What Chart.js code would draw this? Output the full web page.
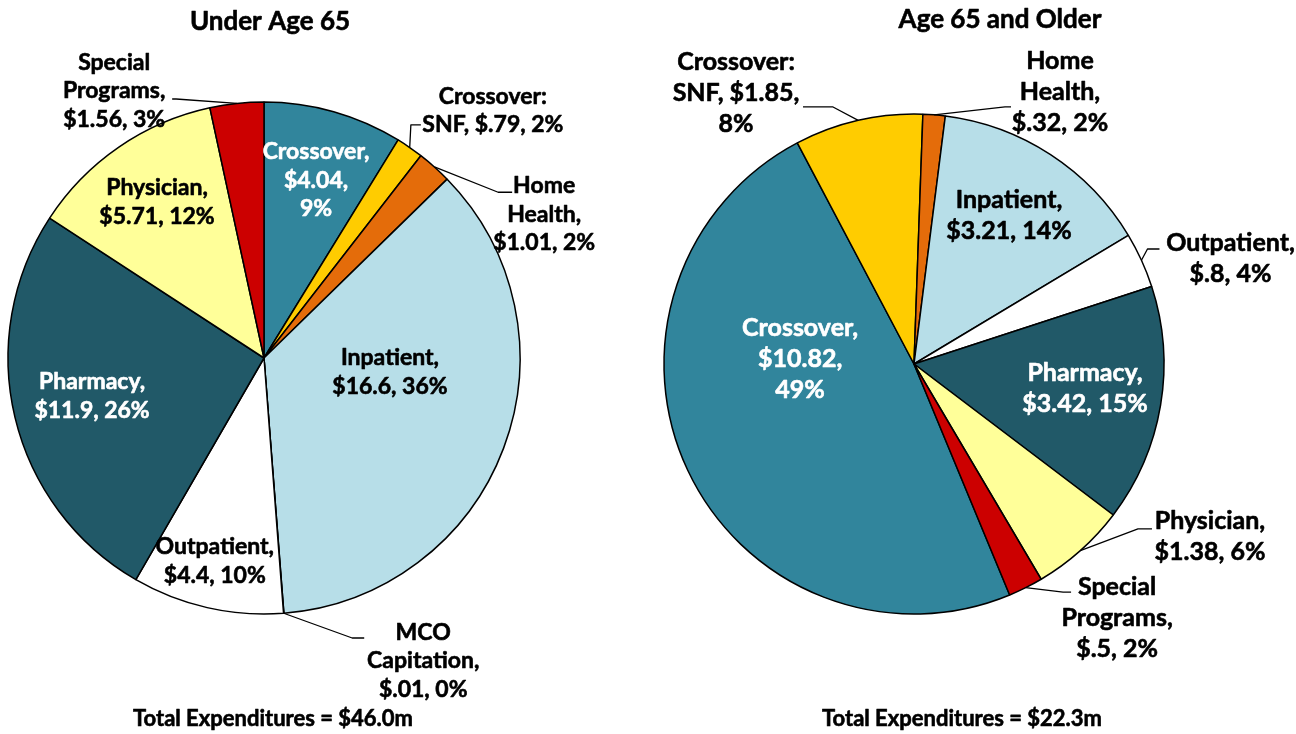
<!DOCTYPE html>
<html>
<head>
<meta charset="utf-8">
<script src="https://cdn.jsdelivr.net/npm/chart.js@4.4.1/dist/chart.umd.min.js"></script>
<style>
  body { margin: 0; background: #fff; width: 1296px; height: 734px; overflow: hidden; position: relative; }
  canvas { position: absolute; top: 0; }
</style>
</head>
<body>
<canvas id="under65" width="648" height="734" style="left:0"></canvas>
<canvas id="over65" width="648" height="734" style="left:648px"></canvas>
<script>
// data (millions of dollars)
const under65Categories = ['Crossover', 'Crossover: SNF', 'Home Health', 'Inpatient', 'MCO Capitation', 'Outpatient', 'Pharmacy', 'Physician', 'Special Programs'];
const under65Values = [4.04, 0.79, 1.01, 16.6, 0.01, 4.4, 11.9, 5.71, 1.56];
const under65Pct = [9, 2, 2, 36, 0, 10, 26, 12, 3];

const over65Categories = ['Crossover', 'Crossover: SNF', 'Home Health', 'Inpatient', 'Outpatient', 'Pharmacy', 'Physician', 'Special Programs'];
const over65Values = [10.82, 1.85, 0.32, 3.21, 0.8, 3.42, 1.38, 0.5];
const over65Pct = [49, 8, 2, 14, 4, 15, 6, 2];

const chartTitles = ['Under Age 65', 'Age 65 and Older'];
const totalLabels = ['Total Expenditures = $46.0m', 'Total Expenditures = $22.3m'];

// colours per category
const categoryColors = {
    'Crossover': '#31859C',
    'Crossover: SNF': '#FFCC00',
    'Home Health': '#E46C0A',
    'Inpatient': '#B7DEE8',
    'MCO Capitation': '#4BACC6',
    'Outpatient': '#FFFFFF',
    'Pharmacy': '#215968',
    'Physician': '#FFFF99',
    'Special Programs': '#CC0000'
};
const whiteText = ['Crossover', 'Pharmacy'];

// label layout: f = distance along slice middle (x radius), da = angle nudge (deg),
// lines = words per line, end/run = leader line end relative to label centre
const under65Place = [
    { f: 0.724, da: 0.5, lines: [1, 1, 1] },
    { f: 1.316, da: 8.1, lines: [1, 3], end: [-72, 14], run: 10 },
    { f: 1.23, da: 21.1, lines: [1, 1, 2], end: [-32, -22], run: 14 },
    { f: 0.495, da: -14.3, lines: [1, 2] },
    { f: 1.337, da: -23.3, lines: [1, 1, 2], end: [-59, -23], run: 12 },
    { f: 0.816, da: 0.8, lines: [1, 2] },
    { f: 0.688, da: 0.9, lines: [1, 2] },
    { f: 0.739, da: 0.1, lines: [1, 2] },
    { f: 1.196, da: -23.2, lines: [1, 1, 2], end: [58, 8], run: 4 }
];
const over65Place = [
    { f: 0.456, da: 27.7, lines: [1, 1, 1] },
    { f: 1.297, da: -20.4, lines: [1, 2, 1], end: [67, 14], run: 30 },
    { f: 1.235, da: 23.6, lines: [1, 1, 2], end: [-49, 15], run: 6 },
    { f: 0.707, da: -0.6, lines: [1, 2] },
    { f: 1.335, da: 6.0, lines: [1, 2], end: [-71, -9], run: 12 },
    { f: 0.691, da: -1.5, lines: [1, 2] },
    { f: 1.371, da: -18.0, lines: [1, 2], end: [-58, -8], run: 14 },
    { f: 1.301, da: -12.1, lines: [1, 1, 2], end: [-46, -26], run: 8 }
];

const FONT = 'Lato, "Open Sans", sans-serif';

function money(v) {
    return '$' + String(v).replace(/^0\./, '.');
}

// 굵은 글씨 (Calibri 느낌으로 살짝 두껍게)
function boldText(ctx, txt, x, y) {
    ctx.strokeStyle = ctx.fillStyle;
    ctx.lineWidth = 0.6;
    ctx.strokeText(txt, x, y);
    ctx.fillText(txt, x, y);
}

// 파이 라벨 + 지시선
const pieLabels = {
    id: 'pieLabels',
    afterDatasetsDraw(chart, args, opts) {
        const ctx = chart.ctx;
        const meta = chart.getDatasetMeta(0);
        const cats = chart.data.labels;
        const values = chart.data.datasets[0].data;
        ctx.save();
        ctx.textAlign = 'center';
        ctx.textBaseline = 'middle';
        ctx.lineJoin = 'round';
        meta.data.forEach((arc, i) => {
            const place = opts.place[i];
            const mid = (arc.startAngle + arc.endAngle) / 2;
            const R = arc.outerRadius;
            const a = mid + place.da * Math.PI / 180;
            const cx = arc.x + place.f * R * Math.cos(a);
            const cy = arc.y + place.f * R * Math.sin(a);

            const words = (cats[i] + ', ' + money(values[i]) + ', ' + opts.pct[i] + '%').split(' ');
            const lines = [];
            let k = 0;
            place.lines.forEach(n => {
                lines.push(words.slice(k, k + n).join(' '));
                k += n;
            });

            if (place.end) {
                const sx = arc.x + R * Math.cos(mid);
                const sy = arc.y + R * Math.sin(mid);
                const ex = cx + place.end[0];
                const ey = cy + place.end[1];
                const sign = ex > sx ? 1 : -1;
                ctx.beginPath();
                ctx.moveTo(sx, sy);
                ctx.lineTo(ex - sign * place.run, ey);
                ctx.lineTo(ex, ey);
                ctx.strokeStyle = '#000';
                ctx.lineWidth = 1.3;
                ctx.stroke();
            }

            ctx.font = 'bold ' + opts.fontSize + 'px ' + FONT;
            ctx.fillStyle = whiteText.includes(cats[i]) ? '#fff' : '#000';
            lines.forEach((ln, j) => {
                boldText(ctx, ln, cx, cy + (j - (lines.length - 1) / 2) * opts.lineHeight);
            });
        });

        // 제목과 합계
        ctx.fillStyle = '#000';
        ctx.font = 'bold 26px ' + FONT;
        boldText(ctx, opts.title, opts.titlePos[0], opts.titlePos[1]);
        ctx.font = 'bold 22px ' + FONT;
        boldText(ctx, opts.total, opts.totalPos[0], opts.totalPos[1]);
        ctx.restore();
    }
};

function makePie(id, cats, values, pct, place, rotation, padding, text) {
    return new Chart(document.getElementById(id), {
        type: 'pie',
        data: {
            labels: cats,
            datasets: [{
                data: values,
                backgroundColor: cats.map(c => categoryColors[c]),
                borderColor: '#000',
                borderWidth: 1.5
            }]
        },
        options: {
            responsive: false,
            animation: false,
            rotation: rotation,
            layout: { padding: padding },
            plugins: {
                legend: { display: false },
                tooltip: { enabled: false },
                pieLabels: Object.assign({ place: place, pct: pct }, text)
            }
        },
        plugins: [pieLabels]
    });
}

makePie('under65', under65Categories, under65Values, under65Pct, under65Place, 0,
    { left: 7.25, top: 101.25, right: 127.25, bottom: 119.25 },
    { fontSize: 23, lineHeight: 28.5, title: chartTitles[0], titlePos: [270, 22], total: totalLabels[0], totalPos: [273, 719] });

makePie('over65', over65Categories, over65Values, over65Pct, over65Place, 157.5,
    { left: 15.25, top: 113.25, right: 131.25, bottom: 119.25 },
    { fontSize: 25, lineHeight: 31, title: chartTitles[1], titlePos: [352, 20], total: totalLabels[1], totalPos: [314, 719] });
</script>
</body>
</html>
